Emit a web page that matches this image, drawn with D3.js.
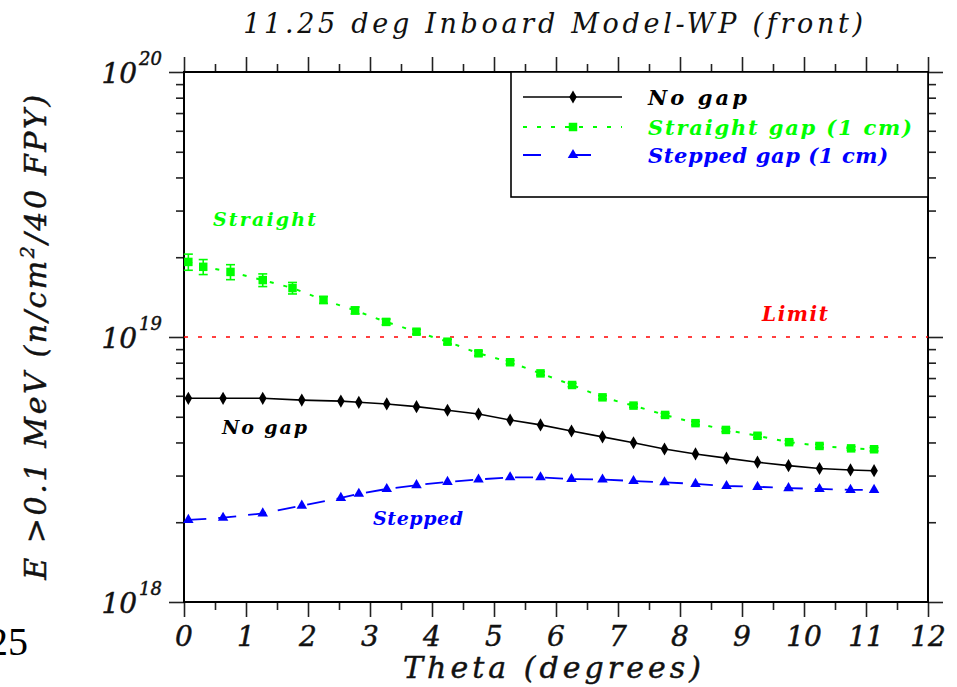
<!DOCTYPE html>
<html>
<head>
<meta charset="utf-8">
<script src="https://cdn.jsdelivr.net/npm/d3@7"></script>
<style>
  body { margin: 0; background: #fff; }
  svg { display: block; }
</style>
</head>
<body>
<svg id="chart" width="957" height="687"></svg>
<script>
// Poloidal angle positions (degrees) of the tallies
const thetaNoGap = [0.07, 0.63, 1.27, 1.90, 2.53, 2.82, 3.27, 3.75, 4.25, 4.75, 5.26, 5.75,
                    6.25, 6.75, 7.25, 7.75, 8.25, 8.75, 9.25, 9.75, 10.25, 10.75, 11.13];
const thetaStraight = [0.07, 0.31, 0.75, 1.27, 1.75, 2.25, 2.76, 3.26, 3.75, 4.25, 4.75, 5.26,
                       5.75, 6.26, 6.75, 7.25, 7.76, 8.25, 8.74, 9.25, 9.76, 10.25, 10.76, 11.13];

// Fast neutron fluence, E > 0.1 MeV (n/cm^2 over 40 FPY)
const noGap = [5.87e18, 5.87e18, 5.87e18, 5.78e18, 5.73e18, 5.67e18, 5.59e18, 5.46e18, 5.29e18,
               5.12e18, 4.86e18, 4.66e18, 4.42e18, 4.20e18, 3.99e18, 3.78e18, 3.62e18, 3.49e18,
               3.37e18, 3.27e18, 3.19e18, 3.15e18, 3.13e18];
const straightGap = [1.92e19, 1.84e19, 1.76e19, 1.64e19, 1.53e19, 1.38e19, 1.26e19, 1.14e19,
                     1.047e19, 9.60e18, 8.68e18, 8.03e18, 7.29e18, 6.59e18, 5.92e18, 5.51e18,
                     5.08e18, 4.73e18, 4.46e18, 4.24e18, 4.01e18, 3.88e18, 3.80e18, 3.77e18];
// relative statistical error of the straight-gap tallies
const straightErr = [0.07, 0.065, 0.065, 0.055, 0.05, 0.03, 0.03, 0.025, 0.02, 0.02, 0.02, 0.015,
                     0.015, 0.015, 0.015, 0.015, 0.015, 0.015, 0.015, 0.015, 0.015, 0.015, 0.015, 0.015];
const steppedGap = [2.04e18, 2.08e18, 2.16e18, 2.31e18, 2.47e18, 2.56e18, 2.67e18, 2.76e18, 2.84e18,
                    2.90e18, 2.955e18, 2.955e18, 2.91e18, 2.90e18, 2.86e18, 2.83e18, 2.79e18, 2.74e18,
                    2.72e18, 2.69e18, 2.67e18, 2.65e18, 2.65e18];
const fluenceLimit = 1e19;

const xMajor = d3.range(0, 13, 1);
const xMinor = d3.range(0.5, 12, 1);
const yMajor = [1e18, 1e19, 1e20];
const yMinor = [2, 3, 4, 5, 6, 7, 8, 9].flatMap(m => [m * 1e18, m * 1e19]);

const titleText = "11.25 deg Inboard Model-WP (front)";
const xTitle = "Theta (degrees)";
const legendNames = ["No gap", "Straight gap (1 cm)", "Stepped gap (1 cm)"];

const GREEN = "#00ff00", BLUE = "#0000ff", RED = "#ff0000";
const SERIF = "'DejaVu Serif', serif";

const svg = d3.select("#chart");
const pL = 184, pR = 928, pT = 72, pB = 602;

const x = d3.scaleLinear().domain([0, 12]).range([pL, pR]);
const y = d3.scaleLog().domain([1e18, 1e20]).range([pB, pT]);

// spread letters so a text spans a given width
function spread(sel, width) {
  sel.each(function () {
    const n = this.getNumberOfChars();
    const w = this.getComputedTextLength();
    if (n > 1) d3.select(this).attr("letter-spacing", ((width - w) / (n - 1)).toFixed(2));
  });
  return sel;
}
// slightly heavier strokes for the plain italic texts
const heavy = sel => sel.attr("stroke", "#111").attr("stroke-width", 0.45);

// ---- axes (ticks point outward on all four sides) ----
function styleAxis(g) {
  g.select(".domain").remove();
  g.selectAll(".tick line").attr("stroke", "#222").attr("stroke-width", 1.6);
  g.selectAll(".tick text").remove();
}
const axes = svg.append("g");
axes.append("g").attr("transform", `translate(0,${pB})`)
  .call(d3.axisBottom(x).tickValues(xMajor).tickSize(15)).call(styleAxis);
axes.append("g").attr("transform", `translate(0,${pB})`)
  .call(d3.axisBottom(x).tickValues(xMinor).tickSize(8)).call(styleAxis);
axes.append("g").attr("transform", `translate(0,${pT})`)
  .call(d3.axisTop(x).tickValues(xMajor).tickSize(15)).call(styleAxis);
axes.append("g").attr("transform", `translate(0,${pT})`)
  .call(d3.axisTop(x).tickValues(xMinor).tickSize(8)).call(styleAxis);
axes.append("g").attr("transform", `translate(${pL},0)`)
  .call(d3.axisLeft(y).tickValues(yMajor).tickSize(15)).call(styleAxis);
axes.append("g").attr("transform", `translate(${pL},0)`)
  .call(d3.axisLeft(y).tickValues(yMinor).tickSize(8)).call(styleAxis);
axes.append("g").attr("transform", `translate(${pR},0)`)
  .call(d3.axisRight(y).tickValues(yMajor).tickSize(15)).call(styleAxis);
axes.append("g").attr("transform", `translate(${pR},0)`)
  .call(d3.axisRight(y).tickValues(yMinor).tickSize(8)).call(styleAxis);

// plot frame
svg.append("rect")
  .attr("x", pL).attr("y", pT).attr("width", pR - pL).attr("height", pB - pT)
  .attr("fill", "none").attr("stroke", "#000").attr("stroke-width", 2);

// x tick labels
svg.append("g").selectAll("text").data(xMajor).join("text")
  .attr("x", d => x(d)).attr("y", 646)
  .attr("text-anchor", "middle")
  .attr("font-family", SERIF).attr("font-style", "italic").attr("font-size", 28)
  .attr("fill", "#111")
  .text(d => d)
  .call(heavy);

// y tick labels: 10 with superscript exponent
const yl = svg.append("g").selectAll("text").data(yMajor).join("text")
  .attr("x", 162).attr("y", d => y(d) + 11)
  .attr("text-anchor", "end")
  .attr("font-family", SERIF).attr("font-style", "italic").attr("fill", "#111")
  .call(heavy);
yl.append("tspan").attr("font-size", 28).text("10");
yl.append("tspan").attr("font-size", 18).attr("dy", -18).attr("dx", 2)
  .text(d => Math.round(Math.log10(d)));

// ---- limit line ----
svg.append("line")
  .attr("x1", x(0)).attr("x2", x(12)).attr("y1", y(fluenceLimit)).attr("y2", y(fluenceLimit))
  .attr("stroke", RED).attr("stroke-width", 1.6).attr("stroke-dasharray", "4,10");

// ---- series ----
const line = d3.line().x(d => x(d[0])).y(d => y(d[1]));
const ngData = thetaNoGap.map((t, i) => [t, noGap[i]]);
const sgData = thetaStraight.map((t, i) => [t, straightGap[i], straightErr[i]]);
const stData = thetaNoGap.map((t, i) => [t, steppedGap[i]]);

svg.append("path").datum(sgData).attr("d", line)
  .attr("fill", "none").attr("stroke", GREEN).attr("stroke-width", 2)
  .attr("stroke-dasharray", "4,10");
svg.append("path").datum(stData).attr("d", line)
  .attr("fill", "none").attr("stroke", BLUE).attr("stroke-width", 1.8)
  .attr("stroke-dasharray", "18,12");
svg.append("path").datum(ngData).attr("d", line)
  .attr("fill", "none").attr("stroke", "#000").attr("stroke-width", 1.6);

// error bars on the straight-gap tallies
const eb = svg.append("g").attr("stroke", GREEN).attr("stroke-width", 1.6);
eb.selectAll("line.v").data(sgData).join("line").attr("class", "v")
  .attr("x1", d => x(d[0])).attr("x2", d => x(d[0]))
  .attr("y1", d => y(d[1] * (1 + d[2]))).attr("y2", d => y(d[1] * (1 - d[2])));
eb.selectAll("line.hi").data(sgData).join("line").attr("class", "hi")
  .attr("x1", d => x(d[0]) - 4.5).attr("x2", d => x(d[0]) + 4.5)
  .attr("y1", d => y(d[1] * (1 + d[2]))).attr("y2", d => y(d[1] * (1 + d[2])));
eb.selectAll("line.lo").data(sgData).join("line").attr("class", "lo")
  .attr("x1", d => x(d[0]) - 4.5).attr("x2", d => x(d[0]) + 4.5)
  .attr("y1", d => y(d[1] * (1 - d[2]))).attr("y2", d => y(d[1] * (1 - d[2])));

const sym = (type, size) => d3.symbol().type(type).size(size)();
svg.append("g").selectAll("path").data(sgData).join("path")
  .attr("transform", d => `translate(${x(d[0])},${y(d[1])})`)
  .attr("d", sym(d3.symbolSquare, 72)).attr("fill", GREEN);
svg.append("g").selectAll("path").data(stData).join("path")
  .attr("transform", d => `translate(${x(d[0])},${y(d[1])})`)
  .attr("d", sym(d3.symbolTriangle, 48)).attr("fill", BLUE);
svg.append("g").selectAll("path").data(ngData).join("path")
  .attr("transform", d => `translate(${x(d[0])},${y(d[1])})`)
  .attr("d", sym(d3.symbolDiamond, 50)).attr("fill", "#000");

// ---- in-plot labels ----
function label(txt, x0, yb, color, size, width) {
  svg.append("text").attr("x", x0).attr("y", yb)
    .attr("font-family", SERIF).attr("font-style", "italic").attr("font-weight", "bold")
    .attr("font-size", size).attr("fill", color).text(txt)
    .call(spread, width);
}
label("Straight", 213, 226, GREEN, 19, 103);
label("No gap", 222, 434, "#000", 19, 85);
label("Stepped", 373, 525, BLUE, 19, 90);
label("Limit", 762, 321, RED, 20, 66);

// ---- legend ----
const lg = svg.append("g");
lg.append("rect").attr("x", 511).attr("y", pT).attr("width", pR - 511).attr("height", 125)
  .attr("fill", "#fff").attr("stroke", "#000").attr("stroke-width", 1.6);
const legendRows = [
  { name: legendNames[0], color: "#000", dash: null, sym: d3.symbolDiamond, size: 50, yy: 97, w: 99 },
  { name: legendNames[1], color: GREEN, dash: "4,10", sym: d3.symbolSquare, size: 72, yy: 127, w: 264 },
  { name: legendNames[2], color: BLUE, dash: "18,32", sym: d3.symbolTriangle, size: 48, yy: 155, w: 240 }
];
legendRows.forEach(r => {
  lg.append("line").attr("x1", 523).attr("x2", 622).attr("y1", r.yy).attr("y2", r.yy)
    .attr("stroke", r.color).attr("stroke-width", r.dash ? 2 : 1.6)
    .attr("stroke-dasharray", r.dash);
  lg.append("path").attr("transform", `translate(573,${r.yy})`)
    .attr("d", sym(r.sym, r.size)).attr("fill", r.color);
  lg.append("text").attr("x", 648).attr("y", r.yy + 8)
    .attr("font-family", SERIF).attr("font-style", "italic").attr("font-weight", "bold")
    .attr("font-size", 21).attr("fill", r.color).text(r.name)
    .call(spread, r.w);
});

// ---- titles ----
svg.append("text").attr("x", 555).attr("y", 33).attr("text-anchor", "middle")
  .attr("font-family", SERIF).attr("font-style", "italic").attr("font-size", 27)
  .attr("fill", "#111").text(titleText).call(spread, 620);

svg.append("text").attr("x", 554).attr("y", 678).attr("text-anchor", "middle")
  .attr("font-family", SERIF).attr("font-style", "italic").attr("font-size", 30)
  .attr("fill", "#111").text(xTitle).call(spread, 298).call(heavy);

const yt = svg.append("text")
  .attr("transform", "translate(46,336) rotate(-90)")
  .attr("text-anchor", "middle")
  .attr("font-family", SERIF).attr("font-style", "italic")
  .attr("font-size", 30).attr("fill", "#111").call(heavy);
yt.append("tspan").text("E >0.1 MeV (n/cm");
yt.append("tspan").attr("dy", -12).attr("font-size", 19).text("2");
yt.append("tspan").attr("dy", 12).text("/40 FPY)");
yt.call(spread, 485);

// page number at the lower left corner
svg.append("text").attr("x", 28).attr("y", 655).attr("text-anchor", "end")
  .attr("font-family", "'Liberation Serif', serif").attr("font-size", 40)
  .attr("fill", "#000").text("25");
</script>
</body>
</html>
